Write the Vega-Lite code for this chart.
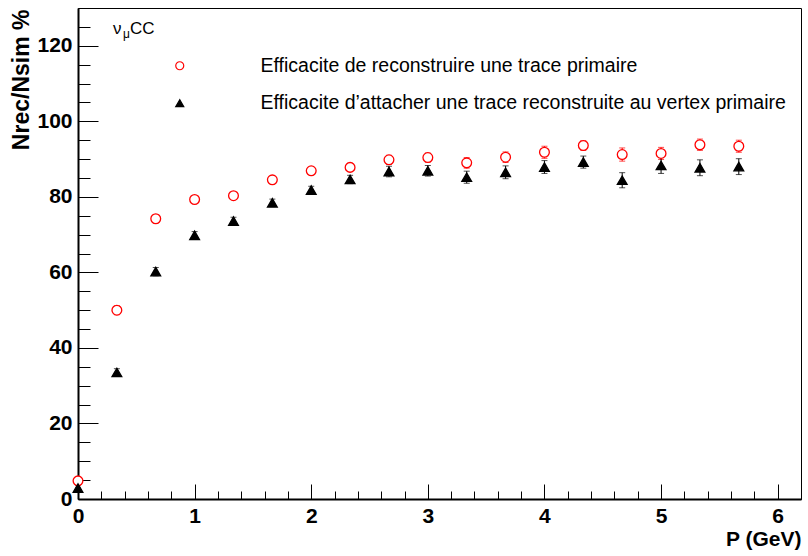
{
  "$schema": "https://vega.github.io/schema/vega-lite/v6.json",
  "width": 723,
  "height": 491,
  "autosize": "none",
  "padding": {"left": 78, "top": 8, "right": 7, "bottom": 57},
  "background": "white",
  "config": {
    "view": {"stroke": "black", "strokeWidth": 1},
    "font": "Liberation Sans",
    "legend": {
      "orient": "none",
      "legendX": 92,
      "legendY": 48,
      "padding": 0,
      "labelOffset": 71,
      "rowPadding": 16.5,
      "labelFontSize": 19.5,
      "labelFont": "Liberation Sans",
      "labelColor": "black",
      "labelLimit": 700,
      "symbolSize": 64,
      "symbolStrokeWidth": 1.2,
      "title": null
    }
  },
  "data": {
    "values": [
      {"p": 0.0, "eff": 4.8, "err": 1.0, "series": "A"},
      {"p": 0.3333, "eff": 50.0, "err": 1.2, "series": "A"},
      {"p": 0.6667, "eff": 74.2, "err": 1.1, "series": "A"},
      {"p": 1.0, "eff": 79.3, "err": 1.0, "series": "A"},
      {"p": 1.3333, "eff": 80.3, "err": 1.0, "series": "A"},
      {"p": 1.6667, "eff": 84.5, "err": 1.0, "series": "A"},
      {"p": 2.0, "eff": 86.9, "err": 1.0, "series": "A"},
      {"p": 2.3333, "eff": 87.8, "err": 1.1, "series": "A"},
      {"p": 2.6667, "eff": 89.8, "err": 1.2, "series": "A"},
      {"p": 3.0, "eff": 90.4, "err": 1.2, "series": "A"},
      {"p": 3.3333, "eff": 89.0, "err": 1.4, "series": "A"},
      {"p": 3.6667, "eff": 90.5, "err": 1.4, "series": "A"},
      {"p": 4.0, "eff": 91.8, "err": 1.6, "series": "A"},
      {"p": 4.3333, "eff": 93.6, "err": 1.3, "series": "A"},
      {"p": 4.6667, "eff": 91.2, "err": 1.75, "series": "A"},
      {"p": 5.0, "eff": 91.5, "err": 1.6, "series": "A"},
      {"p": 5.3333, "eff": 93.8, "err": 1.5, "series": "A"},
      {"p": 5.6667, "eff": 93.4, "err": 1.6, "series": "A"},
      {"p": 0.0, "eff": 2.9, "err": 0.8, "series": "B"},
      {"p": 0.3333, "eff": 33.5, "err": 1.0, "series": "B"},
      {"p": 0.6667, "eff": 60.2, "err": 1.1, "series": "B"},
      {"p": 1.0, "eff": 69.8, "err": 1.0, "series": "B"},
      {"p": 1.3333, "eff": 73.6, "err": 1.0, "series": "B"},
      {"p": 1.6667, "eff": 78.4, "err": 1.0, "series": "B"},
      {"p": 2.0, "eff": 81.8, "err": 1.0, "series": "B"},
      {"p": 2.3333, "eff": 84.6, "err": 1.1, "series": "B"},
      {"p": 2.6667, "eff": 86.7, "err": 1.4, "series": "B"},
      {"p": 3.0, "eff": 86.9, "err": 1.4, "series": "B"},
      {"p": 3.3333, "eff": 85.2, "err": 1.6, "series": "B"},
      {"p": 3.6667, "eff": 86.5, "err": 1.7, "series": "B"},
      {"p": 4.0, "eff": 87.9, "err": 1.7, "series": "B"},
      {"p": 4.3333, "eff": 89.2, "err": 1.6, "series": "B"},
      {"p": 4.6667, "eff": 84.4, "err": 2.0, "series": "B"},
      {"p": 5.0, "eff": 88.3, "err": 2.1, "series": "B"},
      {"p": 5.3333, "eff": 87.7, "err": 2.1, "series": "B"},
      {"p": 5.6667, "eff": 88.0, "err": 2.1, "series": "B"}
    ]
  },
  "transform": [
    {"calculate": "datum.series === 'A' ? 'Efficacite de reconstruire une trace primaire' : 'Efficacite d’attacher une trace reconstruite au vertex primaire'", "as": "label"}
  ],
  "resolve": {"axis": {"x": "independent", "y": "independent"}},
  "layer": [
    {
      "mark": {"type": "errorbar", "ticks": {"size": 6, "thickness": 1}, "thickness": 1},
      "encoding": {
        "x": {
          "field": "p", "type": "quantitative",
          "scale": {"domain": [0, 6.2], "nice": false, "zero": false},
          "axis": {
            "orient": "bottom",
            "values": [0, 1, 2, 3, 4, 5, 6],
            "tickSize": -15, "tickColor": "black", "tickWidth": 1,
            "domainColor": "black", "domainWidth": 2,
            "labelFont": "Liberation Sans", "labelFontWeight": "bold", "labelFontSize": 21, "labelColor": "black",
            "labelPadding": 21, "labelFlush": false, "labelOverlap": false,
            "grid": false,
            "title": "P (GeV)",
            "titleFont": "Liberation Sans", "titleFontWeight": "bold", "titleFontSize": 21, "titleColor": "black",
            "titleAnchor": "end", "titleAlign": "right", "titleX": 723, "titleY": 46, "titleBaseline": "alphabetic"
          }
        },
        "y": {
          "field": "eff", "type": "quantitative",
          "scale": {"domain": [0, 130], "nice": false, "zero": false},
          "axis": {
            "orient": "left",
            "values": [0, 20, 40, 60, 80, 100, 120],
            "tickSize": -20, "tickColor": "black", "tickWidth": 1,
            "domainColor": "black", "domainWidth": 2,
            "labelFont": "Liberation Sans", "labelFontWeight": "bold", "labelFontSize": 21, "labelColor": "black",
            "labelPadding": 26, "labelFlush": false, "labelOverlap": false,
            "grid": false,
            "title": "Nrec/Nsim %",
            "titleFont": "Liberation Sans", "titleFontWeight": "bold", "titleFontSize": 23, "titleColor": "black",
            "titleAngle": -90, "titleAlign": "right", "titleBaseline": "middle",
            "titleX": -57, "titleY": 1
          }
        },
        "yError": {"field": "err"},
        "color": {
          "field": "series", "type": "nominal",
          "scale": {"domain": ["A", "B"], "range": ["#ff0000", "#000000"]},
          "legend": null
        }
      }
    },
    {
      "mark": {"type": "point", "opacity": 1, "strokeWidth": 1.3},
      "encoding": {
        "x": {
          "field": "p", "type": "quantitative",
          "axis": {
            "orient": "bottom",
            "values": [0, 0.2, 0.4, 0.6, 0.8, 1.2, 1.4, 1.6, 1.8, 2.2, 2.4, 2.6, 2.8, 3.2, 3.4, 3.6, 3.8, 4.2, 4.4, 4.6, 4.8, 5.2, 5.4, 5.6, 5.8, 6.2],
            "tickSize": -8, "tickColor": "black", "tickWidth": 1,
            "domain": false, "labels": false, "grid": false, "title": null
          }
        },
        "y": {
          "field": "eff", "type": "quantitative",
          "axis": {
            "orient": "left",
            "values": [5, 10, 15, 25, 30, 35, 45, 50, 55, 65, 70, 75, 85, 90, 95, 105, 110, 115, 125, 130],
            "tickSize": -12, "tickColor": "black", "tickWidth": 1,
            "domain": false, "labels": false, "grid": false, "title": null
          }
        },
        "shape": {
          "field": "label", "type": "nominal",
          "scale": {"domain": ["Efficacite de reconstruire une trace primaire", "Efficacite d’attacher une trace reconstruite au vertex primaire"], "range": ["circle", "triangle-up"]}
        },
        "stroke": {
          "field": "label", "type": "nominal",
          "scale": {"domain": ["Efficacite de reconstruire une trace primaire", "Efficacite d’attacher une trace reconstruite au vertex primaire"], "range": ["#ff0000", "#000000"]}
        },
        "fill": {
          "field": "label", "type": "nominal",
          "scale": {"domain": ["Efficacite de reconstruire une trace primaire", "Efficacite d’attacher une trace reconstruite au vertex primaire"], "range": ["#ffffff", "#000000"]}
        },
        "size": {"value": 95}
      }
    },
    {
      "data": {"values": [{"t": "ν"}]},
      "mark": {"type": "text", "align": "left", "baseline": "alphabetic", "fontSize": 17, "font": "Liberation Sans", "color": "black"},
      "encoding": {
        "x": {"datum": 0.3, "type": "quantitative", "axis": null},
        "y": {"datum": 123.1, "type": "quantitative", "axis": null},
        "text": {"field": "t"}
      }
    },
    {
      "data": {"values": [{"t": "μ"}]},
      "mark": {"type": "text", "align": "left", "baseline": "alphabetic", "fontSize": 12, "font": "Liberation Sans", "color": "black", "dx": 10, "dy": 4},
      "encoding": {
        "x": {"datum": 0.3, "type": "quantitative", "axis": null},
        "y": {"datum": 123.1, "type": "quantitative", "axis": null},
        "text": {"field": "t"}
      }
    },
    {
      "data": {"values": [{"t": "CC"}]},
      "mark": {"type": "text", "align": "left", "baseline": "alphabetic", "fontSize": 17, "font": "Liberation Sans", "color": "black", "dx": 17},
      "encoding": {
        "x": {"datum": 0.3, "type": "quantitative", "axis": null},
        "y": {"datum": 123.1, "type": "quantitative", "axis": null},
        "text": {"field": "t"}
      }
    }
  ]
}
